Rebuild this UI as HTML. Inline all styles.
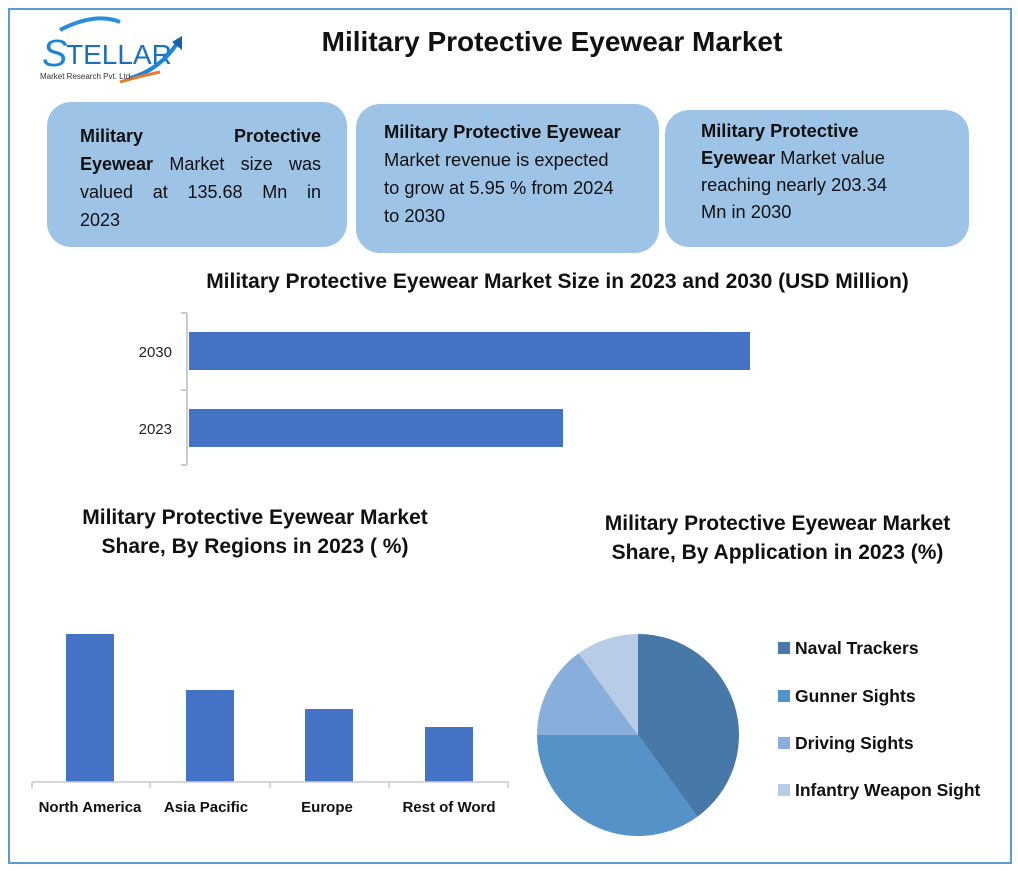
<!DOCTYPE html>
<html><head><meta charset="utf-8"><style>
body{margin:0;width:1018px;height:871px;background:#fff;font-family:"Liberation Sans",sans-serif;position:relative;overflow:hidden}
.a{position:absolute}
.box{position:absolute;background:#9dc3e6;border-radius:24px;font-size:18px;line-height:28px;color:#111;box-sizing:border-box;white-space:nowrap}
.j{text-align:justify;text-align-last:justify}
</style></head><body>
<div class="a" style="left:8px;top:8px;width:1000px;height:852px;border:2px solid #5b9bd5"></div>
<svg class="a" style="left:0;top:0" width="1018" height="871">
<path d="M60 30 Q95 12 120 22" stroke="#2a8fd8" stroke-width="4" fill="none"/>
<text x="42" y="66" font-family="Liberation Sans" font-size="38" fill="#1b86d6" font-style="italic">S</text>
<text x="66" y="64" font-family="Liberation Sans" font-size="28" fill="#1b6fc0">TELLAR</text>
<path d="M130 78 Q160 70 178 42" stroke="#1b86d6" stroke-width="4" fill="none"/>
<polygon points="172,42 182,36 182,50" fill="#1b5fb0"/>
<path d="M120 82 Q140 76 160 72" stroke="#e87a2a" stroke-width="3" fill="none"/>
<text x="40" y="79" font-size="8" fill="#333" font-family="Liberation Sans">Market Research Pvt. Ltd.</text>
<rect x="189" y="332" width="561" height="38" fill="#4472c4"/>
<rect x="189" y="409" width="374" height="38" fill="#4472c4"/>
<path d="M187 313V465M181 313H187M181 390H187M181 465H187" stroke="#ccc" stroke-width="2" fill="none"/>
<text x="172" y="357" font-size="15" text-anchor="end" fill="#222">2030</text>
<text x="172" y="434" font-size="15" text-anchor="end" fill="#222">2023</text>
<rect x="66" y="634" width="48" height="148" fill="#4472c4"/>
<rect x="186" y="690" width="48" height="92" fill="#4472c4"/>
<rect x="305" y="709" width="48" height="73" fill="#4472c4"/>
<rect x="425" y="727" width="48" height="55" fill="#4472c4"/>
<path d="M32 782H508M32 782V788M150 782V788M270 782V788M389 782V788M508 782V788" stroke="#ccc" stroke-width="1.5"/>
<g font-size="15" font-weight="bold" text-anchor="middle" fill="#111">
<text x="90" y="812">North America</text><text x="206" y="812">Asia Pacific</text><text x="327" y="812">Europe</text><text x="449" y="812">Rest of Word</text></g>
<path d="M638 735L638 634A101 101 0 0 1 697.4 816.7Z" fill="#4778a8"/>
<path d="M638 735L697.4 816.7A101 101 0 0 1 537 735Z" fill="#5592c8"/>
<path d="M638 735L537 735A101 101 0 0 1 578.6 653.3Z" fill="#88aedc"/>
<path d="M638 735L578.6 653.3A101 101 0 0 1 638 634Z" fill="#b8cce6"/>
<rect x="778" y="642" width="12" height="12" fill="#4778a8"/>
<rect x="778" y="690" width="12" height="12" fill="#5592c8"/>
<rect x="778" y="737" width="12" height="12" fill="#88aedc"/>
<rect x="778" y="784" width="12" height="12" fill="#b8cce6"/>
<g font-size="17.5" font-weight="bold" fill="#111">
<text x="795" y="654">Naval Trackers</text><text x="795" y="702">Gunner Sights</text><text x="795" y="749">Driving Sights</text><text x="795" y="796">Infantry Weapon Sight</text></g>
</svg>
<div class="a" style="left:200px;top:26px;width:704px;text-align:center;font-size:28px;font-weight:bold;color:#111">Military Protective Eyewear Market</div>
<div class="box" style="left:47px;top:102px;width:300px;height:145px;padding:20px 26px 0 33px">
<div class="j"><b>Military Protective</b></div>
<div class="j"><b>Eyewear</b> Market size was</div>
<div class="j">valued at 135.68 Mn in</div>
<div>2023</div></div>
<div class="box" style="left:356px;top:104px;width:303px;height:149px;padding:14px 8px 0 28px;font-size:18.3px">
<b>Military Protective Eyewear</b><br>Market revenue is expected<br>to grow at 5.95 % from 2024<br>to 2030</div>
<div class="box" style="left:665px;top:110px;width:304px;height:137px;padding:7px 10px 0 36px;line-height:27px;font-size:18.3px">
<b>Military Protective<br>Eyewear</b> Market value<br>reaching nearly 203.34<br>Mn in 2030</div>
<div class="a" style="left:100px;top:270px;width:915px;text-align:center;font-size:21px;font-weight:bold;color:#111">Military Protective Eyewear Market Size in 2023 and 2030 (USD Million)</div>
<div class="a" style="left:20px;top:503px;width:470px;text-align:center;font-size:21px;font-weight:bold;line-height:29px;color:#111">Military Protective Eyewear Market<br>Share, By Regions in 2023 ( %)</div>
<div class="a" style="left:545px;top:509px;width:465px;text-align:center;font-size:21px;font-weight:bold;line-height:29px;color:#111">Military Protective Eyewear Market<br>Share, By Application in 2023 (%)</div>
</body></html>
